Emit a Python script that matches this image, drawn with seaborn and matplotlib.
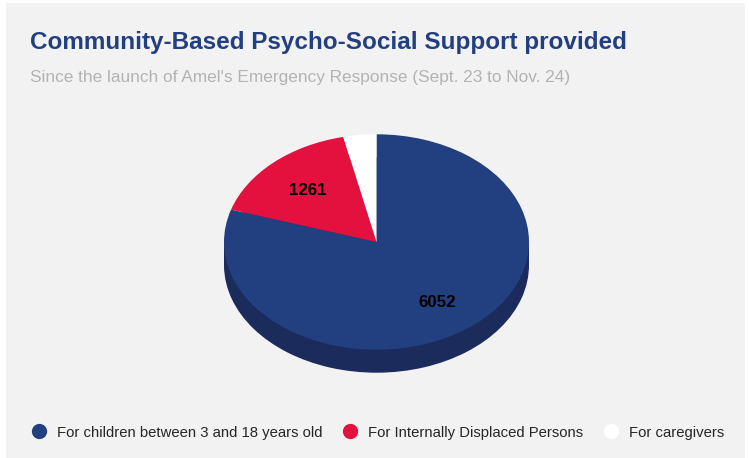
import matplotlib
matplotlib.use("Agg")
import matplotlib.pyplot as plt
from matplotlib.lines import Line2D
from matplotlib.patches import Rectangle
import seaborn as sns

categories = ["For children between 3 and 18 years old",
              "For Internally Displaced Persons",
              "For caregivers"]
values = [6052, 1261, 265]
shown = [True, True, False]
colors = ["#223f80", "#e4113f", "#ffffff"]
side_color = "#1a2b5c"
panel_color = "#f2f2f2"
title = "Community-Based Psycho-Social Support provided"
subtitle = "Since the launch of Amel's Emergency Response (Sept. 23 to Nov. 24)"

sns.set_theme(style="white")
plt.rcParams["font.family"] = ["Liberation Sans", "DejaVu Sans"]

W, H = 749, 458
fig = plt.figure(figsize=(W / 100, H / 100), dpi=100, facecolor="white")
fig.patches.append(Rectangle((6 / W, 0), 739 / W, 1 - 3 / H, transform=fig.transFigure,
                             facecolor=panel_color, edgecolor="none", zorder=-10))

cx, cy, rx, ry, depth = 376.5, 242, 152.5, 107.7, 23
ax = fig.add_axes([(cx - rx) / W, 1 - (cy + ry) / H, 2 * rx / W, 2 * ry / H])

d = depth / ry
ax.pie(values, colors=[side_color] * 3, startangle=90, counterclock=False,
       center=(0, -d), wedgeprops=dict(clip_on=False, linewidth=0))
ax.add_patch(Rectangle((-1, -d), 2, d, facecolor=side_color, edgecolor="none", clip_on=False))

labels = iter(values)
flags = iter(shown)


def label_for(_):
    v, s = next(labels), next(flags)
    return str(v) if s else ""


wedges, _, autotexts = ax.pie(values, colors=colors, startangle=90, counterclock=False,
                              autopct=label_for, pctdistance=0.67,
                              wedgeprops=dict(clip_on=False, linewidth=0))
for t in autotexts:
    t.set(fontsize=12.2, fontweight="bold", color="black")
    px, py = t.get_position()
    t.set_position((px, py - 0.018))

ax.set_aspect("auto")
ax.set_xlim(-1, 1)
ax.set_ylim(-1, 1)
ax.axis("off")

fig.text(30 / W, 1 - 49.5 / H, title, fontsize=17.5, fontweight="bold", color="#223f80", va="baseline")
fig.text(30 / W, 1 - 82 / H, subtitle, fontsize=12.4, color="#b3b3b3", va="baseline")

handles = [Line2D([], [], linestyle="none", marker="o", markersize=11,
                  markerfacecolor=c, markeredgecolor="none") for c in colors]
leg = fig.legend(handles, categories, ncol=3, frameon=False, fontsize=10.75,
                 loc="center left", bbox_to_anchor=(24 / W, 1 - 432.5 / H),
                 labelcolor="#262626", handletextpad=0.23, columnspacing=0.82,
                 borderpad=0, borderaxespad=0)

fig.savefig("out.png", dpi=100, facecolor="white")
